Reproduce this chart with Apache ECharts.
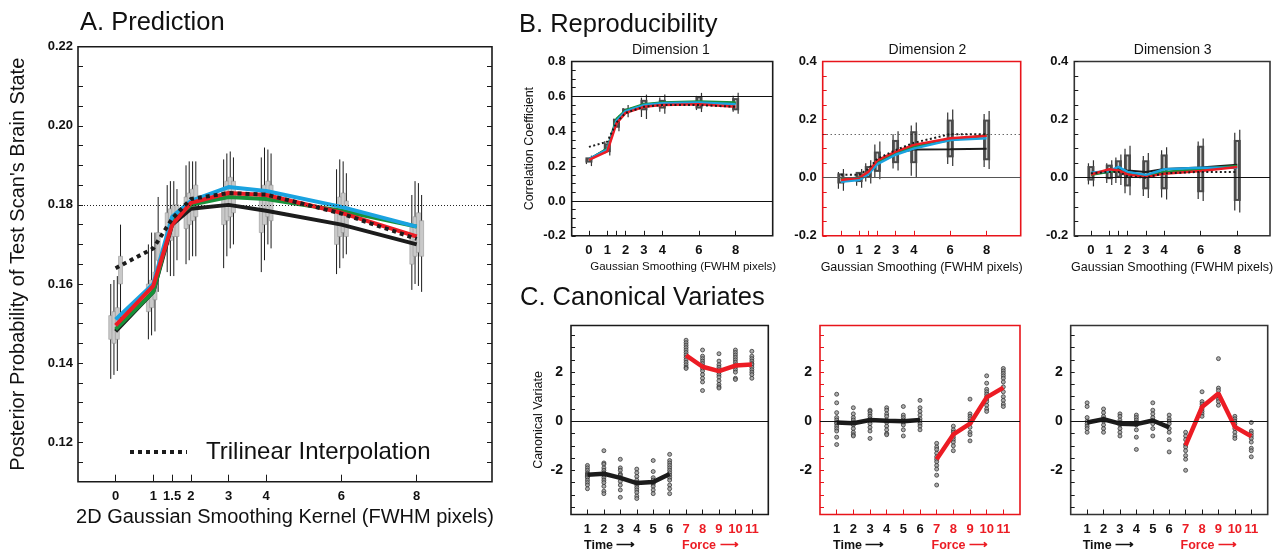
<!DOCTYPE html>
<html><head><meta charset="utf-8">
<script src="https://cdn.jsdelivr.net/npm/echarts@6/dist/echarts.min.js"></script>
<style>html,body{margin:0;padding:0;background:#fff}#c{width:1278px;height:554px}</style>
</head><body><div id="c"></div>
<script>
// ---------------- DATA ----------------
// Panel A: Prediction
const predX = [0, 1, 1.5, 2, 3, 4, 6, 8];
const predXLabels = [0, 1, 1.5, 2, 3, 4, 6, 8];
const predYLabels = [0.12, 0.14, 0.16, 0.18, 0.20, 0.22];
const predYTicks = [0.110,0.115,0.120,0.125,0.130,0.135,0.140,0.145,0.150,0.155,0.160,0.165,0.170,0.175,0.180,0.185,0.190,0.195,0.200,0.205,0.210,0.215,0.220];
const predRef = [0.18];
const predBlack  = [0.148, 0.158, 0.175, 0.179, 0.180, 0.1785, 0.175, 0.170];
const predGreen  = [0.1485, 0.158, 0.176, 0.180, 0.182, 0.1815, 0.1785, 0.1745];
const predBlue   = [0.151, 0.160, 0.177, 0.181, 0.1845, 0.1835, 0.1795, 0.1745];
const predRed    = [0.1495, 0.1595, 0.175, 0.1805, 0.183, 0.1825, 0.178, 0.172];
const predTrilin = [0.164, 0.169, 0.1765, 0.1815, 0.183, 0.1826, 0.1778, 0.1714];
// boxes [low, q1, q3, high]
const predBoxRun1 = [[0.136,0.146,0.152,0.160],[0.146,0.153,0.160,0.170],[0.163,0.170,0.178,0.185],[0.165,0.174,0.182,0.190],[0.164,0.175,0.184,0.1915],[0.163,0.173,0.183,0.192],[0.1625,0.170,0.180,0.189],[0.1585,0.165,0.175,0.1825]];
const predBoxRun2 = [[0.137,0.145,0.153,0.161],[0.147,0.154,0.161,0.173],[0.162,0.171,0.179,0.186],[0.166,0.175,0.183,0.191],[0.167,0.176,0.186,0.193],[0.166,0.175,0.185,0.1945],[0.164,0.172,0.182,0.1915],[0.160,0.167,0.177,0.186]];
const predBoxRun3 = [[0.138,0.146,0.154,0.162],[0.148,0.156,0.163,0.173],[0.162,0.172,0.180,0.186],[0.167,0.176,0.184,0.191],[0.169,0.177,0.187,0.1935],[0.170,0.177,0.186,0.194],[0.1665,0.173,0.183,0.191],[0.1595,0.168,0.178,0.1855]];
const predBoxRun4 = [[0.150,0.160,0.167,0.175],[0.158,0.166,0.173,0.182],[0.166,0.172,0.180,0.184],[0.167,0.177,0.185,0.191],[0.170,0.178,0.186,0.192],[0.169,0.176,0.185,0.193],[0.1675,0.172,0.181,0.188],[0.158,0.167,0.176,0.1825]];

// Panel B: Reproducibility
const reproX = [0, 1, 1.5, 2, 3, 4, 6, 8];
const reproXLabels = [0, 1, 2, 3, 4, 6, 8];
const reproXTicks = [0, 1, 1.5, 2, 3, 4, 6, 8];
const dim1YLabels = [-0.2, 0.0, 0.2, 0.4, 0.6, 0.8];
const dim1YTicks = [-0.2,-0.15,-0.1,-0.05,0,0.05,0.1,0.15,0.2,0.25,0.3,0.35,0.4,0.45,0.5,0.55,0.6,0.65,0.7,0.75,0.8];
const dim23YLabels = [-0.2, 0.0, 0.2, 0.4];
const dim23YTicks = [-0.2,-0.15,-0.1,-0.05,0,0.05,0.1,0.15,0.2,0.25,0.3,0.35,0.4];
const dim1Ref = [0.6, 0.0];
const dim2RefDotted = [0.15];
const dim2Ref = [0.0];
const dim3Ref = [0.0];

const dim1Black  = [0.24, 0.30, 0.465, 0.52, 0.55, 0.56, 0.565, 0.56];
const dim1Green  = [0.235, 0.30, 0.47, 0.52, 0.555, 0.565, 0.57, 0.565];
const dim1Blue   = [0.24, 0.295, 0.46, 0.515, 0.55, 0.56, 0.565, 0.555];
const dim1Red    = [0.235, 0.285, 0.445, 0.505, 0.54, 0.55, 0.555, 0.54];
const dim1Trilin = [0.31, 0.34, 0.45, 0.505, 0.54, 0.55, 0.55, 0.54];
const dim1Box = [[0.20,0.22,0.25,0.26],[0.26,0.28,0.33,0.36],[0.40,0.42,0.47,0.49],[0.48,0.50,0.53,0.55],[0.47,0.52,0.58,0.61],[0.50,0.53,0.58,0.61],[0.51,0.53,0.60,0.62],[0.50,0.52,0.59,0.62]];

const dim2Black  = [-0.005, 0.0, 0.018, 0.055, 0.085, 0.097, 0.098, 0.10];
const dim2Green  = [-0.005, 0.0, 0.018, 0.055, 0.085, 0.107, 0.13, 0.145];
const dim2Blue   = [-0.014, -0.008, 0.012, 0.047, 0.079, 0.10, 0.13, 0.136];
const dim2Red    = [-0.008, 0.0, 0.02, 0.06, 0.09, 0.113, 0.136, 0.144];
const dim2Trilin = [0.01, 0.01, 0.03, 0.065, 0.095, 0.12, 0.15, 0.15];
const dim2Box = [[-0.045,-0.02,0.015,0.03],[-0.035,-0.015,0.02,0.03],[-0.02,0.0,0.04,0.06],[-0.005,0.02,0.09,0.125],[0.025,0.05,0.13,0.16],[0.0,0.05,0.16,0.19],[0.04,0.07,0.20,0.235],[0.03,0.06,0.20,0.23]];

const dim3Black  = [0.015, 0.02, 0.03, 0.025, 0.02, 0.03, 0.035, 0.045];
const dim3Green  = [0.01, 0.02, 0.025, 0.015, 0.005, 0.02, 0.03, 0.04];
const dim3Blue   = [0.017, 0.023, 0.037, 0.02, 0.009, 0.029, 0.034, 0.034];
const dim3Red    = [0.011, 0.029, 0.025, 0.011, 0.002, 0.014, 0.023, 0.037];
const dim3Trilin = [0.015, 0.02, 0.02, 0.005, 0.0, 0.015, 0.02, 0.02];
const dim3Box = [[-0.03,-0.01,0.04,0.06],[-0.025,-0.005,0.045,0.06],[-0.025,0.0,0.06,0.08],[-0.06,-0.03,0.08,0.11],[-0.07,-0.04,0.06,0.085],[-0.075,-0.04,0.08,0.105],[-0.08,-0.05,0.11,0.135],[-0.12,-0.08,0.13,0.165]];

// Panel C: Canonical Variates
const cTimeX = [1, 2, 3, 4, 5, 6];
const cForceX = [7, 8, 9, 10, 11];
const cAllX = [1, 2, 3, 4, 5, 6, 7, 8, 9, 10, 11];
const cTimeLabels = [1, 2, 3, 4, 5, 6];
const cForceLabels = [7, 8, 9, 10, 11];
const cYLabels = [-2, 0, 2];
const cYTicks = [-3.5,-3,-2.5,-2,-1.5,-1,-0.5,0,0.5,1,1.5,2,2.5,3,3.5];
const cRef = [0];

const c1Time  = [-2.18, -2.14, -2.31, -2.52, -2.48, -2.15];
const c1Force = [2.68, 2.22, 2.04, 2.27, 2.31];
const c1Points = [
  [-1.8,-1.9,-2.0,-2.1,-2.15,-2.2,-2.25,-2.3,-2.4,-2.5,-2.6,-2.75],
  [-1.2,-1.7,-1.75,-1.9,-2.0,-2.1,-2.2,-2.3,-2.4,-2.5,-2.65,-2.85,-2.95],
  [-1.55,-1.9,-2.0,-2.15,-2.2,-2.3,-2.45,-2.6,-2.8,-3.1],
  [-1.95,-2.1,-2.25,-2.4,-2.5,-2.6,-2.7,-2.8,-2.9,-3.05,-3.15],
  [-1.6,-2.05,-2.3,-2.4,-2.5,-2.55,-2.65,-2.8,-2.95],
  [-1.35,-1.6,-1.7,-1.8,-1.9,-2.0,-2.1,-2.2,-2.3,-2.4,-2.6,-2.75,-2.95],
  [3.3,3.2,3.1,3.0,2.9,2.8,2.7,2.6,2.5,2.4,2.3,2.2,2.15],
  [2.9,2.65,2.55,2.45,2.35,2.25,2.15,2.05,1.9,1.75,1.6,1.25],
  [2.75,2.45,2.3,2.2,2.1,2.0,1.9,1.8,1.65,1.5,1.4,1.35],
  [2.9,2.8,2.7,2.6,2.5,2.4,2.3,2.2,2.1,2.0,1.75,1.7],
  [2.85,2.65,2.55,2.45,2.35,2.3,2.2,2.1,2.0,1.9,1.75]
];
const c2Time  = [-0.05, -0.08, 0.05, 0.02, 0.0, 0.05];
const c2Force = [-1.55, -0.54, -0.1, 0.97, 1.37];
const c2Points = [
  [1.1,0.75,0.35,0.15,0.05,-0.05,-0.1,-0.2,-0.3,-0.4,-0.65,-0.95],
  [0.55,0.3,0.15,0.05,-0.05,-0.15,-0.3,-0.45,-0.55,-0.6],
  [0.45,0.4,0.3,0.2,0.1,0.0,-0.1,-0.25,-0.4,-0.7],
  [0.55,0.45,0.3,0.2,0.05,-0.05,-0.2,-0.35,-0.5,-0.55],
  [0.6,0.25,0.15,0.05,-0.05,-0.15,-0.35,-0.6],
  [0.85,0.55,0.4,0.25,0.1,0.0,-0.1,-0.2,-0.35],
  [-0.9,-1.05,-1.15,-1.3,-1.45,-1.55,-1.65,-1.8,-1.95,-2.2,-2.6],
  [-0.2,-0.35,-0.45,-0.55,-0.65,-0.75,-0.85,-1.0,-1.2],
  [0.9,0.3,0.2,0.1,0.0,-0.1,-0.25,-0.45,-0.55,-0.8],
  [1.85,1.55,1.3,1.2,1.1,1.0,0.9,0.8,0.65,0.5,0.4],
  [2.15,2.05,1.95,1.85,1.75,1.6,1.4,1.2,1.0,0.85,0.7,0.6]
];
const c3Time  = [-0.05, 0.08, -0.1, -0.12, 0.03, -0.25];
const c3Force = [-0.98, 0.58, 1.13, -0.23, -0.61];
const c3Points = [
  [0.75,0.6,0.15,0.0,-0.1,-0.2,-0.3,-0.45],
  [0.5,0.35,0.2,0.1,0.0,-0.15,-0.3,-0.45],
  [0.3,0.2,0.05,-0.05,-0.15,-0.3,-0.45,-0.6],
  [0.25,0.15,0.05,-0.05,-0.15,-0.35,-0.65,-1.15],
  [0.75,0.45,0.3,0.15,0.0,-0.1,-0.3,-0.6],
  [0.25,0.1,0.0,-0.1,-0.3,-0.45,-0.75,-1.25],
  [-0.45,-0.6,-0.75,-0.95,-1.05,-1.2,-1.4,-1.55,-2.0],
  [1.2,0.8,0.7,0.6,0.5,0.4,0.3,0.2],
  [2.55,1.35,1.25,1.1,1.0,0.9,0.8,0.65],
  [0.2,0.1,0.0,-0.1,-0.2,-0.3,-0.45,-0.6,-0.7],
  [-0.05,-0.4,-0.5,-0.6,-0.7,-0.85,-1.1,-1.2,-1.45]
];

// ---------------- STYLE / LAYOUT ----------------
const FONT = '"Liberation Sans", Arial, Helvetica, sans-serif';
const COL = {black:'#1c1c1c', green:'#17913a', blue:'#1aa3e0', red:'#ec1c24', frameRed:'#e8141b'};

const grids = [
  {left:78, top:46.7, width:414, height:435, borderColor:'#1a1a1a'},      // A
  {left:571.7, top:61.5, width:201, height:174.3, borderColor:'#1a1a1a'}, // B1
  {left:822.7, top:61.5, width:198, height:174.3, borderColor:COL.frameRed}, // B2
  {left:1074.3, top:61.5, width:195.7, height:174.3, borderColor:'#333'}, // B3
  {left:571, top:325.5, width:197.3, height:189, borderColor:'#1a1a1a'},  // C1
  {left:820, top:325.5, width:200, height:189, borderColor:COL.frameRed}, // C2
  {left:1070.7, top:325.5, width:197, height:189, borderColor:'#333'}     // C3
].map(g => Object.assign({show:true, backgroundColor:'transparent', borderWidth:1.6, containLabel:false}, g));

const bXRange = [[-0.94, 10.02], [-1.0, 9.87], [-0.91, 9.79]];

function valAxis(o) {
  return Object.assign({
    type:'value', axisLine:{show:false, onZero:false}, splitLine:{show:false}
  }, o);
}

const xAxes = [];
const yAxes = [];
// A  (xAxis 0, yAxis 0 and 1)
xAxes.push(valAxis({gridIndex:0, min:-1, max:10,
  axisTick:{show:true, inside:true, length:7, customValues:predXLabels, lineStyle:{color:'#1a1a1a', width:1}},
  axisLabel:{show:true, customValues:predXLabels, fontFamily:FONT, fontWeight:'bold', fontSize:13, color:'#111', margin:8, formatter:v=>String(v)},
  name:'2D Gaussian Smoothing Kernel (FWHM pixels)', nameLocation:'middle', nameGap:26,
  nameTextStyle:{fontFamily:FONT, fontSize:20, color:'#111'}}));
yAxes.push(valAxis({gridIndex:0, min:0.11, max:0.22,
  axisTick:{show:true, inside:true, length:5, customValues:predYTicks, lineStyle:{color:'#1a1a1a', width:1}},
  axisLabel:{show:true, customValues:predYLabels, fontFamily:FONT, fontWeight:'bold', fontSize:13, color:'#111', margin:5, formatter:v=>v.toFixed(2)},
  name:"Posterior Probability of Test Scan's Brain State", nameLocation:'middle', nameGap:50, nameRotate:90,
  nameTextStyle:{fontFamily:FONT, fontSize:20, color:'#111'}}));
yAxes.push(valAxis({gridIndex:0, min:0.11, max:0.22, position:'right',
  axisTick:{show:true, inside:true, length:5, customValues:predYTicks, lineStyle:{color:'#1a1a1a', width:1}},
  axisLabel:{show:false}}));
// B  (xAxis 1..3, yAxis 2..4)
for (let k = 0; k < 3; k++) {
  const tickCol = k === 1 ? COL.frameRed : '#1a1a1a';
  xAxes.push(valAxis({gridIndex:1+k, min:bXRange[k][0], max:bXRange[k][1],
    axisTick:{show:true, inside:true, length:5, customValues:reproXTicks, lineStyle:{color:tickCol, width:1}},
    axisLabel:{show:true, customValues:reproXLabels, fontFamily:FONT, fontWeight:'bold', fontSize:13, color:'#111', margin:8, formatter:v=>String(v)},
    name:'Gaussian Smoothing (FWHM pixels)', nameLocation:'middle', nameGap:25,
    nameTextStyle:k === 0 ? {fontFamily:FONT, fontSize:11.5, color:'#111', padding:[0,0,0,22]}
                          : {fontFamily:FONT, fontSize:12.5, color:'#111'}}));
  const yl = k === 0 ? dim1YLabels : dim23YLabels;
  const yt = k === 0 ? dim1YTicks : dim23YTicks;
  const ya = valAxis({gridIndex:1+k, min:-0.2, max:k===0?0.8:0.4,
    axisTick:{show:true, inside:true, length:4, customValues:yt, lineStyle:{color:tickCol, width:1}},
    axisLabel:{show:true, customValues:yl, fontFamily:FONT, fontWeight:'bold', fontSize:13, color:'#111', margin:6, formatter:v=>v.toFixed(1)}});
  if (k === 0) Object.assign(ya, {name:'Correlation Coefficient', nameLocation:'middle', nameGap:36, nameRotate:90,
    nameTextStyle:{fontFamily:FONT, fontSize:12.5, color:'#111'}});
  yAxes.push(ya);
}
// C  (xAxis 4..6, yAxis 5..7)
for (let k = 0; k < 3; k++) {
  const tickCol = k === 1 ? COL.frameRed : '#1a1a1a';
  xAxes.push(valAxis({gridIndex:4+k, min:0, max:12,
    axisTick:{show:true, inside:true, length:5, customValues:cAllX, lineStyle:{color:tickCol, width:1}},
    axisLabel:{show:true, customValues:cAllX, fontFamily:FONT, fontWeight:'bold', fontSize:13, margin:8,
      formatter:v => (cForceLabels.indexOf(v) >= 0 ? '{r|' + v + '}' : '{k|' + v + '}'),
      rich:{r:{color:COL.red, fontWeight:'bold', fontSize:13, fontFamily:FONT}, k:{color:'#111', fontWeight:'bold', fontSize:13, fontFamily:FONT}}}}));
  const ya = valAxis({gridIndex:4+k, min:-3.8, max:3.9,
    axisTick:{show:true, inside:true, length:4, customValues:cYTicks, lineStyle:{color:tickCol, width:1}},
    axisLabel:{show:true, customValues:cYLabels, fontFamily:FONT, fontWeight:'bold', fontSize:14, color:'#111', margin:8, formatter:v=>String(v)}});
  if (k === 0) Object.assign(ya, {name:'Canonical Variate', nameLocation:'middle', nameGap:26, nameRotate:90,
    nameTextStyle:{fontFamily:FONT, fontSize:12.5, color:'#111'}});
  yAxes.push(ya);
}

// ---------------- SERIES ----------------
const series = [];
function refLine(values, style) {
  return {silent:true, symbol:['none','none'], label:{show:false}, animation:false,
    lineStyle:style, data:values.map(v => ({yAxis:v}))};
}
function lineSeries(name, xi, yi, xs, ys, color, width, dash, z, mark) {
  const s = {type:'line', name:name, xAxisIndex:xi, yAxisIndex:yi,
    data:xs.map((x,i)=>[x, ys[i]]), symbol:'none', showSymbol:false, z:z, silent:true,
    lineStyle:{color:color, width:width, type:dash || 'solid', cap:'butt'}, itemStyle:{color:color}};
  if (mark) s.markLine = mark;
  return s;
}
// Panel A boxes
const predOffsets = [-0.13, -0.045, 0.045, 0.13];
[predBoxRun1, predBoxRun2, predBoxRun3, predBoxRun4].forEach((box, gi) => {
  const off = predOffsets[gi];
  series.push({type:'custom', xAxisIndex:0, yAxisIndex:0, z:2, silent:true,
    data:predX.map((x,i)=>[x].concat(box[i])), encode:{x:0, y:[1,2,3,4]},
    renderItem:(params, api) => {
      const x = api.value(0) + off;
      const lo = api.coord([x, api.value(1)]), q1 = api.coord([x, api.value(2)]);
      const q3 = api.coord([x, api.value(3)]), hi = api.coord([x, api.value(4)]);
      return {type:'group', children:[
        {type:'line', shape:{x1:lo[0], y1:lo[1], x2:hi[0], y2:hi[1]}, style:{stroke:'#1a1a1a', lineWidth:1}},
        {type:'rect', shape:{x:q3[0]-2, y:q3[1], width:4, height:q1[1]-q3[1]}, style:{fill:'#c9c9c9', stroke:'#8a8a8a', lineWidth:0.5}}
      ]};
    }});
});
series.push(lineSeries('A black', 0, 0, predX, predBlack, COL.black, 4, null, 3,
  refLine(predRef, {color:'#222', width:1, type:[1,2]})));
series.push(lineSeries('A green', 0, 0, predX, predGreen, COL.green, 4, null, 3));
series.push(lineSeries('A blue', 0, 0, predX, predBlue, COL.blue, 4, null, 3));
series.push(lineSeries('A red', 0, 0, predX, predRed, COL.red, 4, null, 3));
series.push(lineSeries('Trilinear Interpolation', 0, 0, predX, predTrilin, COL.black, 4, [4,4], 4));

// Panel B
const bSets = [
  {box:dim1Box, k:[dim1Black, dim1Green, dim1Blue, dim1Red, dim1Trilin],
   marks:refLine(dim1Ref, {color:'#111', width:1.2, type:'solid'})},
  {box:dim2Box, k:[dim2Black, dim2Green, dim2Blue, dim2Red, dim2Trilin],
   marks:{silent:true, symbol:['none','none'], label:{show:false}, animation:false,
     data:[{yAxis:dim2RefDotted[0], lineStyle:{color:'#222', width:1, type:[1,3]}},
           {yAxis:dim2Ref[0], lineStyle:{color:'#555', width:1.2, type:'solid'}}]}},
  {box:dim3Box, k:[dim3Black, dim3Green, dim3Blue, dim3Red, dim3Trilin],
   marks:refLine(dim3Ref, {color:'#111', width:1.2, type:'solid'})}
];
bSets.forEach((set, k) => {
  const xi = 1 + k, yi = 2 + k;
  series.push({type:'custom', xAxisIndex:xi, yAxisIndex:yi, z:2, silent:true,
    data:reproX.map((x,i)=>[x].concat(set.box[i])), encode:{x:0, y:[1,2,3,4]},
    renderItem:(params, api) => {
      const x = api.value(0);
      const lo = api.coord([x, api.value(1)]), q1 = api.coord([x, api.value(2)]);
      const q3 = api.coord([x, api.value(3)]), hi = api.coord([x, api.value(4)]);
      return {type:'group', children:[
        {type:'line', shape:{x1:lo[0]-2.5, y1:lo[1]-2, x2:hi[0]-2.5, y2:hi[1]+3}, style:{stroke:'#333', lineWidth:1.2}},
        {type:'line', shape:{x1:lo[0]+2.5, y1:lo[1], x2:hi[0]+2.5, y2:hi[1]}, style:{stroke:'#333', lineWidth:1.2}},
        {type:'rect', shape:{x:q3[0]-3.5, y:q3[1], width:7, height:q1[1]-q3[1]}, style:{fill:'#4a4a4a'}},
        {type:'line', shape:{x1:q1[0], y1:q1[1]-2, x2:q3[0], y2:q3[1]+2}, style:{stroke:'#d0d0d0', lineWidth:1.5}}
      ]};
    }});
  series.push(lineSeries('B' + k + ' black', xi, yi, reproX, set.k[0], COL.black, 2, null, 3, set.marks));
  series.push(lineSeries('B' + k + ' green', xi, yi, reproX, set.k[1], COL.green, 2.5, null, 3));
  series.push(lineSeries('B' + k + ' blue', xi, yi, reproX, set.k[2], COL.blue, 2.5, null, 3));
  series.push(lineSeries('B' + k + ' red', xi, yi, reproX, set.k[3], COL.red, 2.5, null, 3));
  series.push(lineSeries('B' + k + ' trilinear', xi, yi, reproX, set.k[4], COL.black, 2, [2,2.5], 4));
});

// Panel C
const cSets = [
  {t:c1Time, f:c1Force, p:c1Points},
  {t:c2Time, f:c2Force, p:c2Points},
  {t:c3Time, f:c3Force, p:c3Points}
];
cSets.forEach((set, k) => {
  const xi = 4 + k, yi = 5 + k;
  const pts = [];
  cAllX.forEach((x, i) => set.p[i].forEach(v => pts.push([x, v])));
  series.push({type:'scatter', xAxisIndex:xi, yAxisIndex:yi, data:pts, symbol:'circle', symbolSize:4, z:2, silent:true,
    itemStyle:{color:'#999', borderColor:'#2a2a2a', borderWidth:0.9},
    markLine:refLine(cRef, {color:'#111', width:1.2, type:'solid'})});
  series.push(lineSeries('C' + k + ' time', xi, yi, cTimeX, set.t, COL.black, 4.5, null, 3));
  series.push(lineSeries('C' + k + ' force', xi, yi, cForceX, set.f, COL.red, 4.5, null, 3));
});

// ---------------- TEXTS ----------------
function txt(text, x, y, size, opts) {
  return {type:'text', x:x, y:y, silent:true, style:Object.assign({text:text, fontFamily:FONT, fontSize:size,
    fill:'#111', textAlign:'left', textVerticalAlign:'middle', verticalAlign:'middle'}, opts || {})};
}
const graphics = [
  txt('A. Prediction', 80, 23, 25.5),
  txt('B. Reproducibility', 519, 25, 25.5),
  txt('C. Canonical Variates', 520, 298, 25.5),
  txt('Dimension 1', 671, 50.5, 14, {textAlign:'center', align:'center'}),
  txt('Dimension 2', 927.5, 50.5, 14, {textAlign:'center', align:'center'}),
  txt('Dimension 3', 1172.7, 50.5, 14, {textAlign:'center', align:'center'}),
  txt('Time \u27F6', 584, 545.7, 12.5, {fontWeight:'bold'}),
  txt('Force \u27F6', 682, 545.7, 12.5, {fontWeight:'bold', fill:COL.red}),
  txt('Time \u27F6', 833, 545.7, 12.5, {fontWeight:'bold'}),
  txt('Force \u27F6', 931.5, 545.7, 12.5, {fontWeight:'bold', fill:COL.red}),
  txt('Time \u27F6', 1082.7, 545.7, 12.5, {fontWeight:'bold'}),
  txt('Force \u27F6', 1180.5, 545.7, 12.5, {fontWeight:'bold', fill:COL.red})
];

const chart = echarts.init(document.getElementById('c'), null, {renderer:'canvas'});
chart.setOption({
  animation:false,
  backgroundColor:'#ffffff',
  textStyle:{fontFamily:FONT},
  grid:grids,
  xAxis:xAxes,
  yAxis:yAxes,
  legend:{data:['Trilinear Interpolation'], left:128, top:440, padding:0, itemWidth:57, itemHeight:14, selectedMode:false,
    lineStyle:{width:4, type:[4,4], color:COL.black},
    itemStyle:{color:'rgba(0,0,0,0)', borderColor:'rgba(0,0,0,0)', borderWidth:0},
    textStyle:{fontFamily:FONT, fontSize:24, color:'#111', padding:[0,0,0,14]}},
  series:series,
  graphic:graphics
});
</script></body></html>
